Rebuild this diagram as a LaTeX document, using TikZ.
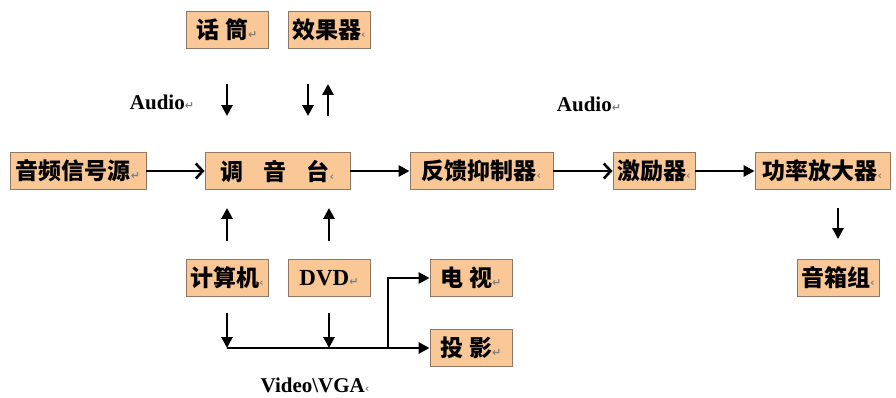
\documentclass[tikz,border=0pt]{standalone}
\usepackage{fontspec}
\setmainfont{Liberation Serif}
\newfontfamily\cjk{Noto Sans CJK SC}
\newfontfamily\dejavu{DejaVu Sans}
\usetikzlibrary{arrows.meta,positioning,calc}
\definecolor{boxfill}{RGB}{250,200,150}
\definecolor{boxline}{RGB}{140,120,100}
\newcommand\pmk{{\dejavu\fontsize{11}{11}\selectfont\color{gray}↵}}
\newcommand\pmks{{\dejavu\fontsize{11}{11}\selectfont\color{gray}‹}}
\tikzset{
    box/.style={
        draw=boxline,
        fill=boxfill,
        line width=0.9pt,
        minimum height=37pt,
        inner sep=1pt,
        font=\cjk\bfseries\fontsize{23}{23}\selectfont
    },
    lbl/.style={font=\bfseries\fontsize{21}{21}\selectfont},
    conn/.style={line width=2.7pt, -{Triangle[length=11pt,width=11pt]}},
    openconn/.style={line width=2.7pt, -{Straight Barb[length=7pt,width=15pt,line width=2.6pt]}}
}

\begin{document}
\begin{tikzpicture}[x=1pt, y=-1pt]
    \useasboundingbox (0,0) rectangle (896,397);

    % Linha de cima
    \node[box, minimum width=82pt] (mic) at (227,30) {话 筒\pmk};
    \node[box, minimum width=82pt] (fx) at (329,30) {效果器\pmks};

    % Linha principal
    \node[box, minimum width=136pt] (src) at (78,171) {音频信号源\pmk};
    \node[box, minimum width=145pt] (mixer) at (277.5,171) {调\hspace{20pt}音\hspace{20pt}台\pmks};
    \node[box, minimum width=143pt] (fbs) at (481.5,171) {反馈抑制器\pmks};
    \node[box, minimum width=82pt] (exc) at (654,171) {激励器\pmks};
    \node[box, minimum width=135pt] (amp) at (822.5,171) {功率放大器\pmks};

    % Linha de baixo
    \node[box, minimum width=82pt] (pc) at (227,278) {计算机\pmks};
    \node[box, minimum width=82pt, font=\rmfamily\bfseries\fontsize{23}{23}\selectfont] (dvd) at (329,278) {DVD\pmk};
    \node[box, minimum width=82pt] (tv) at (471,278) {电 视\pmk};
    \node[box, minimum width=82pt] (proj) at (471,348) {投 影\pmk};
    \node[box, minimum width=82pt] (spk) at (838,278) {音箱组\pmks};

    % Textos
    \node[lbl] (audioA) at (162,102) {Audio\pmk};
    \node[lbl] (audioB) at (589,104) {Audio\pmk};
    \node[lbl] (video) at (315,385) {Video\textbackslash VGA\pmks};

    % Entradas do mixer
    \draw[conn, shorten <=35pt, shorten >=36pt] (mic.south) -- (mic.south |- mixer.north);
    \draw[conn, shorten <=35pt, shorten >=36pt] ([xshift=-21pt]fx.south) -- ([xshift=-21pt]fx.south |- mixer.north);
    \draw[conn, shorten <=36pt, shorten >=35pt] ([xshift=-1pt]fx.south |- mixer.north) -- ([xshift=-1pt]fx.south);
    \draw[conn, shorten <=18pt, shorten >=18pt] (pc.north) -- (pc.north |- mixer.south);
    \draw[conn, shorten <=18pt, shorten >=18pt] (dvd.north) -- (dvd.north |- mixer.south);

    % Cadeia de audio
    \draw[openconn] (src) -- (mixer);
    \draw[conn] (mixer) -- (fbs);
    \draw[openconn] (fbs) -- (exc);
    \draw[conn] (exc) -- (amp);
    \draw[conn, shorten <=18pt, shorten >=20pt] (amp.south -| spk.north) -- (spk.north);

    % Video
    \coordinate (busL) at (227,348);
    \coordinate (fork) at (388,348);
    \draw[conn, shorten <=16pt] (pc.south) -- (busL);
    \draw[conn, shorten <=16pt] (dvd.south) -- (dvd.south |- busL);
    \draw[line width=2.7pt] (busL) -- (fork);
    \draw[conn] (fork) -- (proj.west);
    \draw[conn] (fork) |- (tv.west);

\end{tikzpicture}
\end{document}
